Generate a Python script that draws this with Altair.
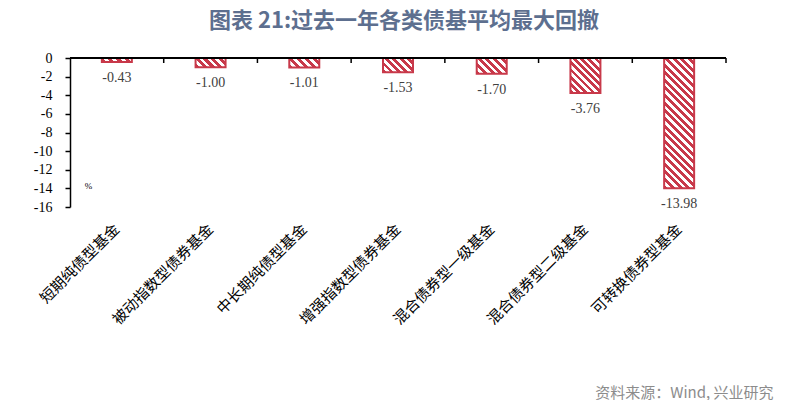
import math
import altair as alt
import pandas as pd

categories = ["短期纯债型基金", "被动指数型债券基金", "中长期纯债型基金", "增强指数型债券基金",
              "混合债券型一级基金", "混合债券型二级基金", "可转换债券型基金"]
values = [-0.43, -1.00, -1.01, -1.53, -1.70, -3.76, -13.98]
y_ticks = [-16, -14, -12, -10, -8, -6, -4, -2, 0]

W, H = 656, 149
PAD_INNER = 0.68
STEP = W / len(categories)
BAR_W = STEP * (1 - PAD_INNER)
RED = "#C8394A"
PERIOD = 5.4
CJK = "Noto Sans CJK SC"
SERIF = "Liberation Serif"

df = pd.DataFrame({"cat": categories, "val": values})


def hatch(v):
    w = BAR_W
    h = abs(v) * H / 16
    lam = (w + h) / (w * w + h * h)
    n = max(1, round((w + h) / (math.sqrt(2) * PERIOD)))
    stops = []
    for k in range(n):
        a, b, c = k / n, (k + 0.52) / n, (k + 1) / n
        stops += [{"offset": a, "color": RED}, {"offset": b, "color": RED},
                  {"offset": b, "color": "#ffffff"}, {"offset": c, "color": "#ffffff"}]
    return {"gradient": "linear", "x1": 0, "y1": 1, "x2": lam * w, "y2": 1 - lam * h, "stops": stops}


fill_def = {
    "condition": [{"test": f"datum.cat == '{c}'", "value": hatch(v)} for c, v in zip(categories, values)],
    "value": RED,
}

xscale = alt.Scale(domain=categories, paddingInner=PAD_INNER, paddingOuter=PAD_INNER / 2)
yscale = alt.Scale(domain=[-16, 0], nice=False)

x_axis = alt.Axis(
    orient="bottom", domain=False, ticks=False, labelAngle=-45, labelAlign="right",
    labelBaseline="middle", labelFont=CJK, labelFontSize=15, labelColor="black",
    labelPadding=19, labelLimit=300,
    title="资料来源：Wind, 兴业研究", titleFont=CJK, titleFontSize=15, titleFontWeight="normal",
    titleColor="#8c8c8c", titleX=703, titleY=185, titleAlign="right", titleBaseline="middle")

y_axis = alt.Axis(
    orient="left", values=y_ticks, labelOverlap=False,
    labelExpr="datum.value == 0 ? '0' : '-' + abs(datum.value)",
    grid=False, domain=True, domainColor="black", domainWidth=1.5, ticks=True,
    tickColor="black", tickSize=5, tickWidth=1.5, labelFont=SERIF, labelFontSize=14,
    labelColor="black", labelPadding=13,
    title="%", titleAngle=0, titleX=18, titleY=127, titleFontSize=9, titleFont=SERIF,
    titleFontWeight="normal", titleColor="black", titleAlign="center",
    titleBaseline="middle")

X = alt.X("cat:N", scale=xscale, sort=None, axis=x_axis)
Y = alt.Y("val:Q", scale=yscale, axis=y_axis)

bars = alt.Chart(df).mark_bar(stroke=RED, strokeWidth=2).encode(x=X, y=Y, fill=fill_def)

zero_rule = alt.Chart(df).mark_rule(color="black", strokeWidth=1.5).encode(
    y=alt.Y(datum=0, scale=yscale, axis=y_axis))

# small category ticks hanging below the zero line, at the band boundaries
cat_ticks = alt.Chart(df).mark_rule(
    color="black", strokeWidth=1.5, xOffset=STEP * PAD_INNER / 2
).encode(
    x=alt.X("cat:N", scale=xscale, sort=None, axis=x_axis, bandPosition=1),
    y=alt.value(0), y2=alt.value(5))

labels = alt.Chart(df).transform_calculate(
    label="'-' + format(abs(datum.val), '.2f')"
).mark_text(font=SERIF, fontSize=14, color="#404040", baseline="middle", dy=16).encode(
    x=X, y=Y, text="label:N")

chart = alt.layer(bars, zero_rule, cat_ticks, labels).properties(
    width=W, height=H,
    autosize="none",
    padding={"left": 62, "top": 50, "right": 74, "bottom": 193},
    title=alt.TitleParams(text="图表 21:过去一年各类债基平均最大回撤", font=CJK, fontSize=22,
                          fontWeight="bold", color="#5d6f8f", anchor="middle", dx=6, offset=18),
).configure_view(stroke=None)

chart.save("out.html", embed_options={"renderer": "svg", "actions": False})
